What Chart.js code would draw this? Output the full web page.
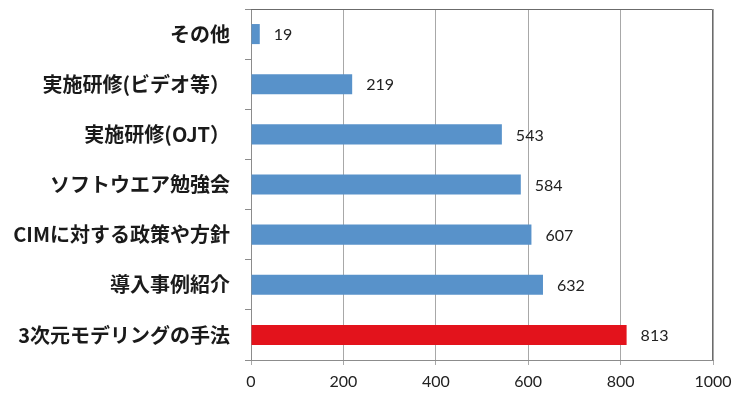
<!DOCTYPE html>
<html>
<head>
<meta charset="utf-8">
<script src="https://cdn.jsdelivr.net/npm/chart.js@4"></script>
<style>
  html, body { margin: 0; padding: 0; background: #fff; }
  #wrap { width: 740px; height: 399px; position: relative; }
</style>
</head>
<body>
<div id="wrap"><canvas id="chart"></canvas></div>
<script>
var categories = ['その他', '実施研修(ビデオ等）', '実施研修(OJT）', 'ソフトウエア勉強会', 'CIMに対する政策や方針', '導入事例紹介', '3次元モデリングの手法'];
var counts = [19, 219, 543, 584, 607, 632, 813];
var xTicks = [0, 200, 400, 600, 800, 1000];
var highlighted = '3次元モデリングの手法';

var blue = '#5892CA';
var red = '#E3131C';

// labels to the right of each bar, plus the frame on top/right
var extras = {
  id: 'extras',
  afterDatasetsDraw: function(chart) {
    var ctx = chart.ctx;
    var meta = chart.getDatasetMeta(0);
    ctx.save();
    ctx.font = '16px Lato';
    ctx.fillStyle = '#222';
    ctx.textAlign = 'left';
    ctx.textBaseline = 'middle';
    meta.data.forEach(function(bar, i) {
      ctx.fillText(String(counts[i]), bar.x + 14, bar.y + 1);
    });
    var a = chart.chartArea;
    ctx.strokeStyle = '#6b6b6b';
    ctx.lineWidth = 1;
    ctx.beginPath();
    ctx.moveTo(a.left, a.top + 0.5);
    ctx.lineTo(a.right - 0.5, a.top + 0.5);
    ctx.lineTo(a.right - 0.5, a.bottom);
    ctx.stroke();
    ctx.restore();
  }
};

var ctx = document.getElementById('chart');

new Chart(ctx, {
  type: 'bar',
  data: {
    labels: categories,
    datasets: [{
      data: counts,
      backgroundColor: categories.map(function(c) { return c === highlighted ? red : blue; }),
      barPercentage: 0.4,
      categoryPercentage: 1.0
    }]
  },
  options: {
    indexAxis: 'y',
    responsive: true,
    maintainAspectRatio: false,
    animation: false,
    layout: { padding: { top: 9, right: 27, left: 0, bottom: 0 } },
    plugins: {
      legend: { display: false },
      tooltip: { enabled: false }
    },
    scales: {
      x: {
        min: 0,
        max: 1000,
        afterBuildTicks: function(scale) {
          scale.ticks = xTicks.map(function(v) { return { value: v }; });
        },
        afterFit: function(scale) { scale.height = 39; },
        grid: { color: '#a8a8a8', tickLength: 5, lineWidth: 1 },
        border: { color: '#8c8c8c' },
        ticks: {
          color: '#222',
          font: { family: 'Lato', size: 16 },
          padding: 7,
          maxRotation: 0,
          callback: function(v) { return String(v); }
        }
      },
      y: {
        afterFit: function(scale) {
          scale.width = 251;
          scale.paddingTop = 0;
          scale.paddingBottom = 0;
        },
        grid: { offset: true, drawOnChartArea: false, tickLength: 6, color: '#8c8c8c' },
        border: { color: '#8c8c8c' },
        ticks: {
          color: '#1a1a1a',
          font: { family: 'Noto Sans CJK JP', size: 20, weight: 'bold' },
          padding: 15
        }
      }
    }
  },
  plugins: [extras]
});
</script>
</body>
</html>
